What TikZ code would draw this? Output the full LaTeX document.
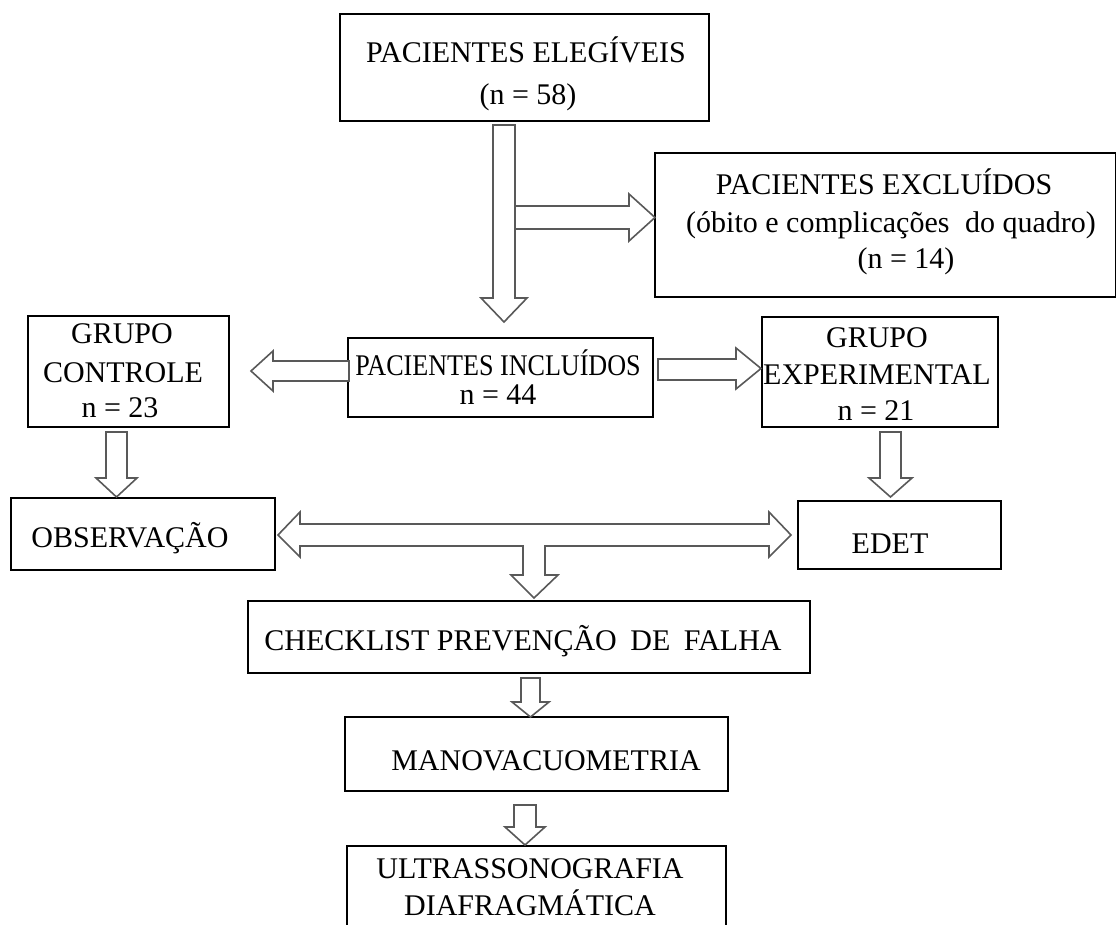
\documentclass[tikz,border=0pt]{standalone}
\usepackage{fontspec}
\setmainfont{Liberation Serif}
\usetikzlibrary{fit}
\begin{document}
\begin{tikzpicture}[x=1pt,y=-1pt,
  box/.style={draw=black, line width=1.6pt, inner sep=0pt, outer sep=0pt},
  txt/.style={font=\fontsize{30}{36}\selectfont, inner sep=0pt, anchor=base},
  blk/.style={draw=black!65, line width=1.6pt, fill=white, line join=miter},
]
\useasboundingbox (0,0) rectangle (1116,925);
\fill[white] (0,0) rectangle (1116,925);
\begin{scope}
\clip (0,0) rectangle (1116,925);
% boxes
\node[box, fit={(340,14) (709,121)}] (eleg) {};
\node[box, fit={(655,153) (1116,297)}] (excl) {};
\node[box, fit={(28,316) (229,427)}] (ctrl) {};
\node[box, fit={(348,338) (653,417)}] (incl) {};
\node[box, fit={(762,317) (998,427)}] (expe) {};
\node[box, fit={(11,498) (275,570)}] (obs) {};
\node[box, fit={(798,501) (1001,569)}] (edet) {};
\node[box, fit={(248,601) (810,673)}] (check) {};
\node[box, fit={(345,717) (728,791)}] (mano) {};
\node[box, fit={(347,846) (726,940)}] (ultra) {};

% texts
\node[txt] (elegA) at (526,63) {PACIENTES ELEGÍVEIS};
\node[txt] (elegB) at (528,105) {(n = 58)};
\node[txt] (exclA) at (884,195) {PACIENTES EXCLUÍDOS};
\node[txt] (exclB) at (891,233) {(óbito e complicações\hspace{8pt} do quadro)};
\node[txt] (exclC) at (906,269) {(n = 14)};
\node[txt] (ctrlA) at (122,343) {GRUPO};
\node[txt] (ctrlB) at (123,382) {CONTROLE};
\node[txt] (ctrlC) at (120,417) {n = 23};
\node[txt] (inclA) at (498,375) {\scalebox{0.87}[1]{PACIENTES INCLUÍDOS}};
\node[txt] (inclB) at (498,404) {n = 44};
\node[txt] (expeA) at (877,347) {GRUPO};
\node[txt] (expeB) at (877,384) {EXPERIMENTAL};
\node[txt] (expeC) at (876,420) {n = 21};
\node[txt] (obsA) at (130,547) {OBSERVAÇÃO};
\node[txt] (edetA) at (890,553) {EDET};
\node[txt] (checkA) at (523,650) {CHECKLIST PREVENÇÃO\hspace{6pt} DE\hspace{6pt} FALHA};
\node[txt] (manoA) at (546,770) {MANOVACUOMETRIA};
\node[txt] (ultraA) at (530,878) {ULTRASSONOGRAFIA};
\node[txt] (ultraB) at (530,915) {DIAFRAGMÁTICA};

% block arrows
\draw[blk] (493,125) -- (515,125) -- (515,298) -- (527,298) -- (504,322) -- (481,298) -- (493,298) -- cycle;
\draw[blk] (515,206) -- (629,206) -- (629,194) -- (655,217.5) -- (629,241) -- (629,229) -- (515,229) -- cycle;
\draw[blk] (349,361) -- (273,361) -- (273,351) -- (251,371) -- (273,391) -- (273,381) -- (349,381) -- cycle;
\draw[blk] (658,359) -- (736,359) -- (736,348) -- (761,368.5) -- (736,389) -- (736,380) -- (658,380) -- cycle;
\draw[blk] (106,432) -- (127,432) -- (127,478) -- (137,478) -- (116.5,497) -- (96,478) -- (106,478) -- cycle;
\draw[blk] (880,432) -- (901,432) -- (901,478) -- (912,478) -- (890.5,497) -- (869,478) -- (880,478) -- cycle;
\draw[blk] (278,535) -- (300,512) -- (300,524) -- (769,524) -- (769,512) -- (791,535) -- (769,557) -- (769,546)
  -- (545,546) -- (545,575) -- (558,575) -- (534,598) -- (511,575) -- (523,575) -- (523,546)
  -- (300,546) -- (300,557) -- cycle;
\draw[blk] (521,678) -- (540,678) -- (540,702) -- (549,702) -- (530.5,717) -- (512,702) -- (521,702) -- cycle;
\draw[blk] (514,805) -- (536,805) -- (536,827) -- (545,827) -- (525,845) -- (505,827) -- (514,827) -- cycle;
\end{scope}
\end{tikzpicture}
\end{document}
